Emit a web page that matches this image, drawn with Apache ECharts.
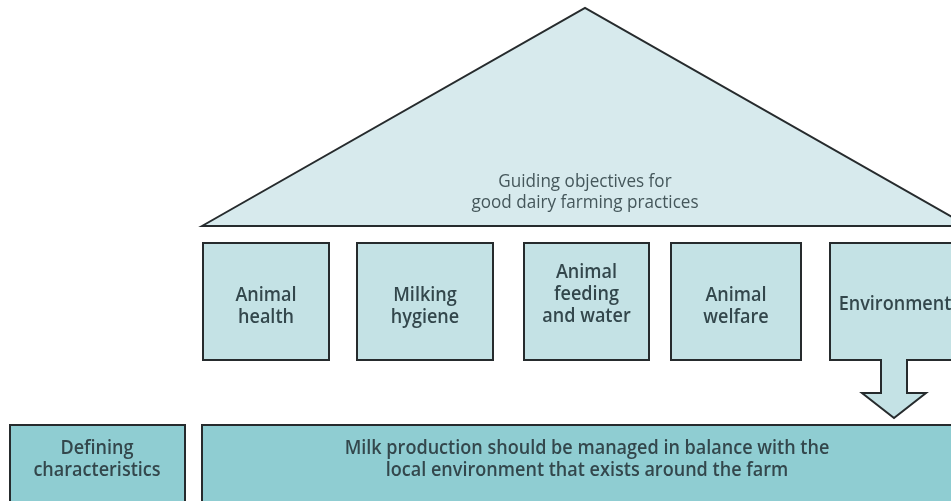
<!DOCTYPE html>
<html>
<head>
<meta charset="utf-8">
<script src="https://cdn.jsdelivr.net/npm/echarts@6/dist/echarts.min.js"></script>
<style>html,body{margin:0;padding:0;background:#fff;}#c{width:951px;height:501px;}</style>
</head>
<body>
<div id="c"></div>
<script>
// ---- content (data) ----
const roofLabel = 'Guiding objectives for\ngood dairy farming practices';
const pillarLabels = ['Animal\nhealth', 'Milking\nhygiene', 'Animal\nfeeding\nand water', 'Animal\nwelfare', 'Environment'];
const baseLabels = ['Defining\ncharacteristics', 'Milk production should be managed in balance with the\nlocal environment that exists around the farm'];

// ---- layout (diagram units = pixels of the 951x501 canvas) ----
const roofGeom = { left: [202, 226], apex: [585, 8], right: [968, 226], textAt: [585, 192] };
const pillarX = [[203, 329], [357, 493], [524, 649], [671, 801], [830, 960]];
const pillarY = [243, 360];
const pillarTextY = [307, 307, 295, 307, 305];
const arrowGeom = { stemL: 881, stemR: 907, headY: 393, headL: 862, headR: 926, tipX: 894, tipY: 418 };
const baseX = [[10, 185], [202, 972]];
const baseY = [425, 520];
const baseTextAt = [[97, 460], [587, 460]];

const C = {
  roof: '#d7eaed', pillar: '#c4e2e5', base: '#8fcdd2',
  stroke: '#262b2d', text: '#33474c', roofText: '#45575b'
};
const FONT = 'Open Sans';

function txt(api, x, y, s, size, lh, weight, color, sx) {
  const p = api.coord([x, y]);
  return {
    type: 'text', x: p[0], y: p[1], scaleX: sx,
    style: { text: s, align: 'center', verticalAlign: 'middle', fontFamily: FONT, fontSize: size, fontWeight: weight, lineHeight: lh, fill: color }
  };
}

const chart = echarts.init(document.getElementById('c'), null, { renderer: 'canvas' });
chart.setOption({
  animation: false,
  backgroundColor: '#ffffff',
  grid: { left: 0, right: 0, top: 0, bottom: 0 },
  xAxis: { type: 'value', min: 0, max: 951, show: false },
  yAxis: { type: 'value', min: 0, max: 501, inverse: true, show: false },
  series: [
    {
      type: 'custom', name: 'roof', data: [roofLabel],
      renderItem: function (params, api) {
        const pts = [roofGeom.left, roofGeom.apex, roofGeom.right].map(function (q) { return api.coord(q); });
        return {
          type: 'group', children: [
            { type: 'polygon', shape: { points: pts }, style: { fill: C.roof, stroke: C.stroke, lineWidth: 2, lineJoin: 'miter' } },
            txt(api, roofGeom.textAt[0], roofGeom.textAt[1], roofLabel, 18, 21, 500, C.roofText, 0.95)
          ]
        };
      }
    },
    {
      type: 'custom', name: 'pillars', data: pillarLabels.map(function (l, i) { return [i]; }),
      renderItem: function (params, api) {
        const i = params.dataIndex;
        const x0 = pillarX[i][0], x1 = pillarX[i][1], y0 = pillarY[0], y1 = pillarY[1];
        let raw;
        if (i === pillarLabels.length - 1) {
          const a = arrowGeom;
          raw = [[x0, y0], [x1, y0], [x1, y1], [a.stemR, y1], [a.stemR, a.headY], [a.headR, a.headY], [a.tipX, a.tipY],
            [a.headL, a.headY], [a.stemL, a.headY], [a.stemL, y1], [x0, y1]];
        } else {
          raw = [[x0, y0], [x1, y0], [x1, y1], [x0, y1]];
        }
        const pts = raw.map(function (q) { return api.coord(q); });
        return {
          type: 'group', children: [
            { type: 'polygon', shape: { points: pts }, style: { fill: C.pillar, stroke: C.stroke, lineWidth: 2 } },
            txt(api, (x0 + x1) / 2, pillarTextY[i], pillarLabels[i], 19, 22, 600, C.text, 0.95)
          ]
        };
      }
    },
    {
      type: 'custom', name: 'base', data: baseLabels.map(function (l, i) { return [i]; }),
      renderItem: function (params, api) {
        const i = params.dataIndex;
        const p0 = api.coord([baseX[i][0], baseY[0]]);
        const p1 = api.coord([baseX[i][1], baseY[1]]);
        return {
          type: 'group', children: [
            { type: 'rect', shape: { x: p0[0], y: p0[1], width: p1[0] - p0[0], height: p1[1] - p0[1] }, style: { fill: C.base, stroke: C.stroke, lineWidth: 2 } },
            txt(api, baseTextAt[i][0], baseTextAt[i][1], baseLabels[i], 19, 22, 600, C.text, 0.95)
          ]
        };
      }
    }
  ]
});
</script>
</body>
</html>
